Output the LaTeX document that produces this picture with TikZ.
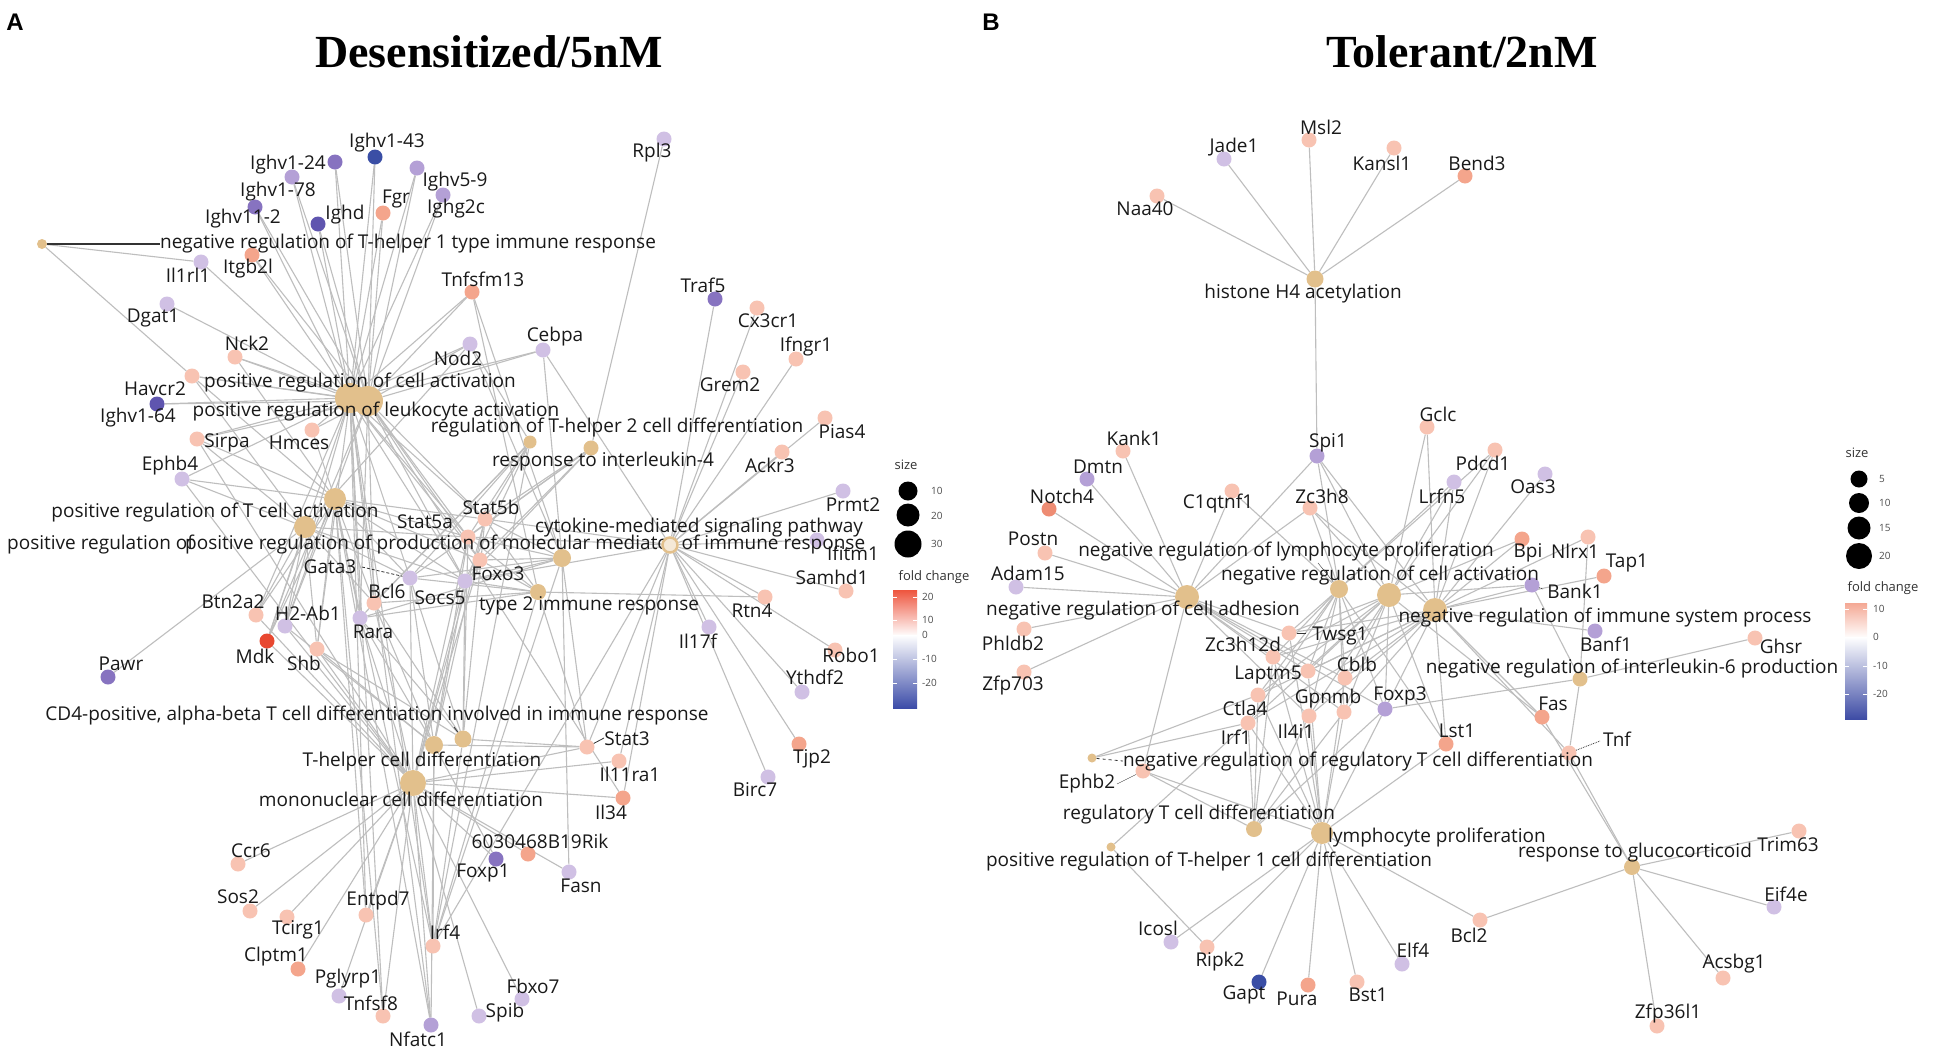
\documentclass[tikz,border=0pt]{standalone}
\usepackage{fontspec}
\setmainfont{Open Sans}
\newfontfamily\titlefont{Liberation Serif}
\newfontfamily\letterfont{Liberation Sans}
\pgfdeclarelayer{bglayer}
\pgfdeclarelayer{edgelayer}
\pgfsetlayers{bglayer,edgelayer,main}
\definecolor{termc}{RGB}{226,192,140}
\definecolor{edgec}{RGB}{190,190,190}
\definecolor{pl}{RGB}{248,195,178}
\definecolor{pm}{RGB}{244,165,140}
\definecolor{pd}{RGB}{238,140,115}
\definecolor{rd}{RGB}{232,72,48}
\definecolor{ll}{RGB}{208,192,228}
\definecolor{lm}{RGB}{180,160,214}
\definecolor{ld}{RGB}{135,115,192}
\definecolor{ldd}{RGB}{95,85,175}
\definecolor{bl}{RGB}{58,78,165}
\tikzset{
  gdot/.style={circle,inner sep=0pt,minimum size=15pt,draw=none},
  tdot/.style={circle,inner sep=0pt,fill=termc,draw=none},
  lbl/.style={font=\fontsize{19}{22}\selectfont,inner sep=0pt,text=black!90},
  edge/.style={draw=edgec,line width=1.1pt},
  lead/.style={draw=black!80,line width=0.8pt},
  legt/.style={font=\fontsize{13}{15}\selectfont,inner sep=0pt,text=black!80},
  legn/.style={font=\fontsize{10}{12}\selectfont,inner sep=0pt,text=black!70,anchor=west},
}
\newcommand\gn[6]{\node[gdot,fill=#4] (#1) at (#2,#3) {}; \node[lbl] at (#5,#6) {#1};}
\newcommand\tm[7]{\node[tdot,minimum size=#4pt] (#1) at (#2,#3) {}; \node[lbl] (#1-l) at (#5,#6) {#7};}
\begin{document}
\begin{tikzpicture}[x=1pt,y=-1pt]
\begin{pgfonlayer}{bglayer}
\fill[white] (0,0) rectangle (1950,1047);
\end{pgfonlayer}
\useasboundingbox (0,0) rectangle (1950,1047);
% titles
\node[font=\letterfont\bfseries\fontsize{24}{26}\selectfont] (letA) at (15,22) {A};
\node[font=\letterfont\bfseries\fontsize{24}{26}\selectfont] (letB) at (991,22) {B};
\node[font=\titlefont\bfseries\fontsize{46}{52}\selectfont] (titA) at (489,52) {Desensitized/5nM};
\node[font=\titlefont\bfseries\fontsize{46}{52}\selectfont] (titB) at (1462,52) {Tolerant/2nM};
% ---------------- Panel A genes
\gn{Ighv1-43}{375}{157}{bl}{387}{143}
\gn{Ighv1-24}{335}{162}{ld}{288}{165}
\gn{Ighv5-9}{417}{168}{lm}{455}{182}
\gn{Ighv1-78}{292}{177}{lm}{278}{192}
\gn{Ighg2c}{443}{195}{lm}{456}{209}
\gn{Ighv11-2}{255}{207}{ld}{243}{219}
\gn{Ighd}{318}{224}{ldd}{345}{215}
\gn{Fgr}{383}{213}{pm}{396}{199}
\gn{Itgb2l}{252}{255}{pm}{248}{269}
\gn{Il1rl1}{201}{262}{ll}{188}{275}
\gn{Tnfsfm13}{472}{292}{pm}{483}{279}
\gn{Dgat1}{167}{304}{ll}{153}{318}
\gn{Nod2}{470}{344}{ll}{458}{358}
\gn{Cebpa}{543}{350}{ll}{555}{337}
\gn{Nck2}{235}{357}{pl}{247}{343}
\gn{Havcr2}{192}{376}{pl}{155}{389}
\gn{Ighv1-64}{157}{404}{ldd}{138}{418}
\gn{Rpl3}{664}{139}{ll}{652}{153}
\gn{Traf5}{715}{299}{ld}{703}{285}
\gn{Cx3cr1}{757}{308}{pl}{768}{321}
\gn{Ifngr1}{796}{359}{pl}{806}{347}
\gn{Grem2}{743}{372}{pl}{730}{385}
\gn{Pias4}{825}{418}{pl}{842}{432}
\gn{Ackr3}{782}{452}{pl}{770}{465}
\gn{Prmt2}{843}{491}{ll}{853}{505}
\gn{Ifitm1}{817}{540}{ll}{853}{553}
\gn{Samhd1}{846}{591}{pl}{832}{577}
\gn{Rtn4}{765}{597}{pl}{752}{611}
\gn{Robo1}{835}{650}{pl}{851}{655}
\gn{Ythdf2}{802}{692}{ll}{815}{677}
\gn{Il17f}{709}{627}{ll}{698}{641}
\gn{Sirpa}{197}{439}{pl}{227}{443}
\gn{Hmces}{312}{430}{pl}{299}{443}
\gn{Ephb4}{182}{479}{ll}{170}{466}
\gn{Stat5a}{468}{537}{pl}{425}{522}
\gn{Stat5b}{485}{519}{pl}{491}{507}
\gn{Foxo3}{480}{560}{pl}{498}{574}
\gn{Socs5}{465}{581}{ll}{440}{598}
\gn{Gata3}{410}{578}{ll}{330}{567}
\gn{Bcl6}{374}{603}{pl}{387}{591}
\gn{Rara}{360}{618}{ll}{373}{632}
\gn{Btn2a2}{256}{615}{pl}{233}{602}
\gn{H2-Ab1}{285}{626}{ll}{308}{613}
\gn{Mdk}{267}{641}{rd}{255}{656}
\gn{Shb}{317}{649}{pl}{304}{663}
\gn{Pawr}{108}{677}{ld}{121}{664}
\gn{Stat3}{587}{747}{pl}{627}{739}
\gn{Il11ra1}{619}{761}{pl}{630}{774}
\gn{Il34}{623}{798}{pm}{611}{812}
\gn{6030468B19Rik}{528}{854}{pm}{540}{841}
\gn{Foxp1}{496}{859}{ld}{483}{873}
\gn{Fasn}{569}{872}{ll}{581}{886}
\gn{Ccr6}{238}{864}{pl}{251}{851}
\gn{Sos2}{250}{911}{pl}{238}{897}
\gn{Tcirg1}{287}{917}{pl}{298}{930}
\gn{Entpd7}{366}{915}{pl}{378}{901}
\gn{Clptm1}{298}{969}{pm}{276}{957}
\gn{Pglyrp1}{339}{996}{ll}{348}{979}
\gn{Tnfsf8}{383}{1016}{pl}{371}{1003}
\gn{Irf4}{433}{946}{pl}{445}{932}
\gn{Nfatc1}{431}{1025}{lm}{418}{1039}
\gn{Spib}{479}{1016}{ll}{505}{1013}
\gn{Fbxo7}{522}{999}{ll}{533}{986}
\gn{Tjp2}{799}{744}{pm}{812}{759}
\gn{Birc7}{768}{777}{ll}{755}{790}
% Panel A terms
\tm{nth1}{42}{244}{10}{408}{244}{negative regulation of T-helper 1 type immune response}
\tm{pcell}{350}{398}{30}{360}{383}{positive regulation of cell activation}
\tm{pleuk}{368}{401}{30}{376}{412}{positive regulation of leukocyte activation}
\tm{ptcell}{335}{499}{22}{215}{513}{positive regulation of T cell activation}
\node[tdot,minimum size=22pt] (pregc) at (305,527) {};
\node[lbl,anchor=west] (pregc-l) at (7,545) {positive regulation of};
\node[tdot,minimum size=18pt] (pprod) at (562,558) {};
\node[lbl,anchor=west] (pprod-l) at (185,545) {positive regulation of production of molecular mediator of immune response};
\tm{th2}{530}{442}{13}{617}{428}{regulation of T-helper 2 cell differentiation}
\tm{il4}{591}{448}{15}{603}{462}{response to interleukin-4}
\node[circle,inner sep=0pt,minimum size=15pt,fill=termc!35,draw=termc,line width=2.5pt] (cyto) at (670,545) {};
\node[lbl] (cyto-l) at (699,528) {cytokine-mediated signaling pathway};
\tm{type2}{538}{592}{16}{589}{606}{type 2 immune response}
\tm{cd4}{463}{739}{17}{377}{716}{CD4-positive, alpha-beta T cell differentiation involved in immune response}
\tm{thelp}{434}{745}{18}{422}{761}{T-helper cell differentiation}
\tm{mono}{413}{783}{26}{401}{799}{mononuclear cell differentiation}
% ---------------- Panel B genes
\gn{Msl2}{1309}{140}{pl}{1321}{127}
\gn{Jade1}{1224}{159}{ll}{1234}{147}
\gn{Kansl1}{1394}{148}{pl}{1382}{163}
\gn{Bend3}{1465}{176}{pm}{1477}{163}
\gn{Naa40}{1157}{196}{pl}{1145}{209}
\gn{Kank1}{1123}{451}{pl}{1134}{438}
\gn{Dmtn}{1087}{479}{lm}{1098}{467}
\gn{Notch4}{1049}{509}{pd}{1062}{496}
\gn{Spi1}{1317}{456}{lm}{1328}{443}
\gn{Gclc}{1427}{427}{pl}{1438}{414}
\gn{C1qtnf1}{1232}{491}{pl}{1218}{504}
\gn{Zc3h8}{1310}{508}{pl}{1322}{496}
\gn{Postn}{1045}{553}{pl}{1033}{539}
\gn{Adam15}{1016}{587}{ll}{1028}{573}
\gn{Phldb2}{1024}{629}{pl}{1013}{643}
\gn{Zfp703}{1024}{672}{pl}{1013}{686}
\gn{Twsg1}{1289}{633}{pl}{1340}{636}
\gn{Zc3h12d}{1273}{657}{pl}{1243}{644}
\gn{Laptm5}{1308}{671}{pl}{1268}{675}
\gn{Cblb}{1345}{678}{pl}{1357}{664}
\gn{Ctla4}{1258}{695}{pl}{1245}{708}
\gn{Gpnmb}{1344}{712}{pl}{1328}{699}
\gn{Foxp3}{1385}{709}{lm}{1400}{696}
\gn{Il4i1}{1309}{716}{pl}{1296}{731}
\gn{Irf1}{1248}{723}{pl}{1236}{737}
\gn{Lst1}{1446}{744}{pm}{1457}{731}
\gn{Fas}{1542}{717}{pm}{1553}{704}
\gn{Tnf}{1569}{753}{pl}{1617}{739}
\gn{Banf1}{1595}{631}{lm}{1606}{644}
\gn{Ghsr}{1755}{638}{pl}{1781}{646}
\gn{Bank1}{1532}{585}{lm}{1575}{591}
\gn{Tap1}{1604}{576}{pm}{1627}{563}
\gn{Nlrx1}{1588}{537}{pl}{1575}{551}
\gn{Bpi}{1522}{539}{pm}{1528}{553}
\gn{Oas3}{1545}{474}{ll}{1533}{487}
\gn{Pdcd1}{1495}{450}{pl}{1483}{463}
\gn{Lrfn5}{1454}{482}{ll}{1442}{496}
\gn{Ephb2}{1143}{771}{pl}{1087}{784}
\gn{Trim63}{1799}{831}{pl}{1788}{845}
\gn{Eif4e}{1774}{907}{ll}{1786}{894}
\gn{Acsbg1}{1723}{978}{pl}{1734}{964}
\gn{Zfp36l1}{1657}{1026}{pl}{1668}{1013}
\gn{Bcl2}{1480}{920}{pl}{1469}{935}
\gn{Elf4}{1402}{964}{ll}{1413}{950}
\gn{Icosl}{1171}{942}{ll}{1158}{928}
\gn{Ripk2}{1207}{947}{pl}{1220}{962}
\gn{Gapt}{1259}{982}{bl}{1244}{995}
\gn{Pura}{1308}{985}{pm}{1297}{999}
\gn{Bst1}{1357}{982}{pl}{1368}{995}
% Panel B terms
\tm{hist}{1315}{279}{17}{1303}{294}{histone H4 acetylation}
\tm{nlym}{1339}{589}{18}{1286}{552}{negative regulation of lymphocyte proliferation}
\tm{nact}{1389}{595}{24}{1380}{576}{negative regulation of cell activation}
\tm{nadh}{1187}{597}{24}{1143}{611}{negative regulation of cell adhesion}
\tm{nimm}{1435}{610}{24}{1605}{618}{negative regulation of immune system process}
\tm{nil6}{1580}{679}{15}{1632}{669}{negative regulation of interleukin-6 production}
\tm{ntreg}{1092}{758}{9}{1358}{761}{negative regulation of regulatory T cell differentiation}
\tm{treg}{1254}{829}{16}{1199}{814}{regulatory T cell differentiation}
\tm{lympro}{1322}{833}{22}{1437}{837}{lymphocyte proliferation}
\tm{pth1}{1111}{847}{9}{1209}{861}{positive regulation of T-helper 1 cell differentiation}
\tm{gluc}{1632}{867}{16}{1635}{853}{response to glucocorticoid}
% ---------------- edges
\begin{pgfonlayer}{edgelayer}
\foreach \g in {Il1rl1,Havcr2} \draw[edge] (nth1) -- (\g);
\foreach \g in {Ighv1-43,Ighv1-24,Ighv5-9,Ighv1-78,Ighg2c,Ighv11-2,Ighd,Fgr,Itgb2l,Il1rl1,Dgat1,Nck2,Tnfsfm13,Nod2,Cebpa,Havcr2,Ighv1-64,Sirpa,Hmces,Ephb4,Btn2a2,Mdk,H2-Ab1,Shb,Gata3,Bcl6,Rara,Socs5,Stat5a,Stat5b,Foxo3,Irf4,Entpd7,Tnfsf8,Nfatc1} \draw[edge] (pcell) -- (\g);
\foreach \g in {Ighv1-43,Ighv1-24,Ighv5-9,Ighv1-78,Ighg2c,Ighv11-2,Ighd,Fgr,Itgb2l,Nck2,Tnfsfm13,Nod2,Cebpa,Havcr2,Ighv1-64,Hmces,Sirpa,Mdk,H2-Ab1,Stat5a,Stat5b,Foxo3,Rara,Bcl6,Socs5,Il34} \draw[edge] (pleuk) -- (\g);
\foreach \g in {Nck2,Sirpa,Hmces,Ephb4,Havcr2,Btn2a2,H2-Ab1,Mdk,Shb,Gata3,Bcl6,Rara,Socs5,Stat5a,Stat5b,Foxo3,Tnfsf8,Entpd7,Irf4,Nfatc1} \draw[edge] (ptcell) -- (\g);
\foreach \g in {Pawr,Ephb4,Sirpa,Mdk,Btn2a2,H2-Ab1,Gata3,Bcl6,Stat5a,Havcr2,Socs5,Nod2,Shb} \draw[edge] (pregc) -- (\g);
\foreach \g in {Stat5a,Stat5b,Foxo3,Socs5,Fasn,Cebpa,Nod2,Tnfsfm13,Gata3,Rara,Irf4,Stat3} \draw[edge] (pprod) -- (\g);
\foreach \g in {Gata3,Bcl6,Socs5,Stat5a,Stat5b,Rara,Nod2,Irf4} \draw[edge] (th2) -- (\g);
\foreach \g in {Rpl3,Stat5a,Stat5b,Gata3,Socs5,Foxo3} \draw[edge] (il4) -- (\g);
\foreach \g in {Cebpa,Traf5,Cx3cr1,Ifngr1,Grem2,Pias4,Ackr3,Prmt2,Ifitm1,Samhd1,Rtn4,Robo1,Ythdf2,Il17f,Birc7,Tjp2,Stat3,Il34,Il11ra1,Stat5a,Stat5b,Socs5,Irf4} \draw[edge] (cyto) -- (\g);
\foreach \g in {Gata3,Bcl6,Stat5a,Stat5b,Socs5,Foxo3,Stat3,Tnfsfm13,Irf4,Rara,Rtn4} \draw[edge] (type2) -- (\g);
\foreach \g in {Gata3,Bcl6,Rara,Stat5a,Stat5b,Socs5,Stat3,Irf4,Shb} \draw[edge] (cd4) -- (\g);
\foreach \g in {Gata3,Bcl6,Rara,Stat5a,Stat5b,Socs5,Stat3,Irf4,Foxp1,Nfatc1,Shb,H2-Ab1} \draw[edge] (thelp) -- (\g);
\foreach \g in {Ccr6,Sos2,Tcirg1,Clptm1,Entpd7,Pglyrp1,Tnfsf8,Nfatc1,Irf4,Spib,Fbxo7,Foxp1,6030468B19Rik,Fasn,Il34,Il11ra1,Stat3,Gata3,Bcl6,Rara,Shb,H2-Ab1,Mdk,Socs5,Stat5a,Stat5b,Foxo3,Btn2a2,Sirpa,Ephb4} \draw[edge] (mono) -- (\g);
% B
\foreach \g in {Naa40,Jade1,Msl2,Kansl1,Bend3,Spi1} \draw[edge] (hist) -- (\g);
\foreach \g in {Kank1,Dmtn,Notch4,Postn,Adam15,Phldb2,Zfp703,C1qtnf1,Spi1,Zc3h8,Ephb2,Twsg1,Zc3h12d,Laptm5,Cblb,Gpnmb,Il4i1,Foxp3} \draw[edge] (nadh) -- (\g);
\foreach \g in {Spi1,Zc3h8,C1qtnf1,Twsg1,Zc3h12d,Laptm5,Cblb,Gpnmb,Foxp3,Ctla4,Il4i1,Irf1,Lst1,Pdcd1,Lrfn5} \draw[edge] (nlym) -- (\g);
\foreach \g in {Spi1,Zc3h8,Gclc,Lrfn5,Pdcd1,Bpi,Bank1,Twsg1,Zc3h12d,Laptm5,Cblb,Gpnmb,Foxp3,Ctla4,Il4i1,Irf1,Lst1,Fas} \draw[edge] (nact) -- (\g);
\foreach \g in {Spi1,Zc3h8,Gclc,Lrfn5,Pdcd1,Oas3,Bpi,Nlrx1,Tap1,Bank1,Banf1,Twsg1,Zc3h12d,Laptm5,Cblb,Gpnmb,Foxp3,Ctla4,Il4i1,Irf1,Lst1,Fas,Tnf} \draw[edge] (nimm) -- (\g);
\foreach \g in {Ghsr,Nlrx1,Bank1,Foxp3,Tnf} \draw[edge] (nil6) -- (\g);
\foreach \g in {Ctla4,Irf1} \draw[edge] (ntreg) -- (\g);
\foreach \g in {Ctla4,Irf1,Foxp3,Il4i1,Gpnmb,Zc3h12d,Ephb2} \draw[edge] (treg) -- (\g);
\foreach \g in {Icosl,Ripk2,Gapt,Pura,Bst1,Elf4,Bcl2,Lst1,Foxp3,Gpnmb,Il4i1,Ctla4,Irf1,Cblb,Laptm5,Zc3h12d,Twsg1,Ephb2} \draw[edge] (lympro) -- (\g);
\foreach \g in {Ripk2,Irf1} \draw[edge] (pth1) -- (\g);
\foreach \g in {Trim63,Eif4e,Acsbg1,Zfp36l1,Bcl2,Fas,Tnf} \draw[edge] (gluc) -- (\g);
\end{pgfonlayer}
% leader lines
\draw[lead,line width=1.2pt] (nth1) -- (nth1-l.west);
\coordinate (gatal) at (362,567);
\draw[lead,densely dashed] (gatal) -- (Gata3);
\coordinate (stat3l) at (604,738);
\draw[lead] (stat3l) -- (Stat3);
\coordinate (cd4l) at (454,727);
\draw[lead] (cd4l) -- (cd4);
\coordinate (twsl) at (1306,633);
\draw[lead] (Twsg1) -- (twsl);
\coordinate (bankl) at (1543,589);
\draw[lead,densely dotted] (Bank1) -- (bankl);
\coordinate (tnfl) at (1600,741);
\draw[lead,densely dotted] (Tnf) -- (tnfl);
\coordinate (ephl) at (1117,784);
\draw[lead,thin] (ephl) -- (Ephb2);
\draw[lead,dashed] (ntreg) -- (ntreg-l.west);
\coordinate (nlyml) at (1318,563);
\draw[lead,thin] (nlyml) -- (nlym);
% ---------------- legends
\node[legt] (sizeA) at (906,465) {size};
\node[circle,fill=black,inner sep=0pt,minimum size=19pt] (sa1) at (908,491) {};
\node[circle,fill=black,inner sep=0pt,minimum size=23pt] (sa2) at (908,515) {};
\node[circle,fill=black,inner sep=0pt,minimum size=27pt] (sa3) at (908,544) {};
\node[legn] (sa1t) at (931,491) {10};
\node[legn] (sa2t) at (931,516) {20};
\node[legn] (sa3t) at (931,544) {30};
\node[legt] (fcA) at (934,577) {fold change};
\shade[top color={rgb,255:red,238;green,85;blue,62}, bottom color=white] (893,590) rectangle (917,636);
\shade[top color=white, middle color={rgb,255:red,160;green,140;blue,205}, bottom color={rgb,255:red,60;green,76;blue,168}] (893,635) rectangle (917,708);
\foreach \yy/\tt in {597/20,620/10,635/0,659/-10,683/-20} {
  \draw[white,line width=0.8pt] (893,\yy) -- (897,\yy) (913,\yy) -- (917,\yy);
  \node[legn] at (922,\yy) {\tt};
}
\node[legt] (sizeB) at (1857,453) {size};
\node[circle,fill=black,inner sep=0pt,minimum size=17pt] (sb1) at (1859,479) {};
\node[circle,fill=black,inner sep=0pt,minimum size=20pt] (sb2) at (1859,503) {};
\node[circle,fill=black,inner sep=0pt,minimum size=23pt] (sb3) at (1859,528) {};
\node[circle,fill=black,inner sep=0pt,minimum size=26pt] (sb4) at (1859,556) {};
\node[legn] at (1879,479) {5};
\node[legn] at (1879,503) {10};
\node[legn] at (1879,528) {15};
\node[legn] at (1879,556) {20};
\node[legt] (fcB) at (1883,588) {fold change};
\shade[top color={rgb,255:red,244;green,168;blue,148}, bottom color=white] (1845,603) rectangle (1867,638);
\shade[top color=white, middle color={rgb,255:red,165;green,145;blue,208}, bottom color={rgb,255:red,62;green,76;blue,165}] (1845,637) rectangle (1867,719);
\foreach \yy/\tt in {609/10,637/0,666/-10,694/-20} {
  \draw[white,line width=0.8pt] (1845,\yy) -- (1849,\yy) (1863,\yy) -- (1867,\yy);
  \node[legn] at (1873,\yy) {\tt};
}
\end{tikzpicture}
\end{document}
